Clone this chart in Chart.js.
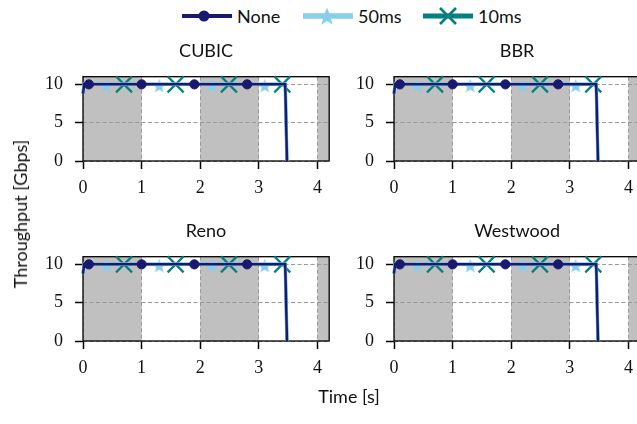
<!DOCTYPE html>
<html>
<head>
<meta charset="utf-8">
<script src="https://cdn.jsdelivr.net/npm/chart.js@4.4.1/dist/chart.umd.min.js"></script>
<style>
  html, body { margin: 0; padding: 0; background: #fff; }
  #fig { position: relative; width: 637px; height: 424px; overflow: hidden; font-family: Lato, sans-serif; color: #111; }
  #fig canvas { position: absolute; }
  .legend-item { position: absolute; top: 4px; height: 24px; display: flex; align-items: center; font-size: 18px; white-space: nowrap; }
  .legend-item svg { margin-right: 5px; }
  .axis-label { position: absolute; font-size: 18px; white-space: nowrap; transform: translate(-50%, -50%); }
  #ylabel { left: 20px; top: 214px; transform: translate(-50%, -50%) rotate(-90deg); }
  #xlabel { left: 349px; top: 396px; }
</style>
</head>
<body>
<div id="fig">
  <canvas id="p0" width="311" height="180" style="left:19px;top:30px"></canvas>
  <canvas id="p1" width="311" height="180" style="left:330px;top:30px"></canvas>
  <canvas id="p2" width="311" height="180" style="left:19px;top:210px"></canvas>
  <canvas id="p3" width="311" height="180" style="left:330px;top:210px"></canvas>

  <div class="legend-item" style="left:182px">
    <svg width="50" height="24"><line x1="0" y1="12" x2="50" y2="12" stroke="#191970" stroke-width="4"/><circle cx="22" cy="12" r="5.5" fill="#191970"/></svg>None
  </div>
  <div class="legend-item" style="left:303px">
    <svg width="50" height="24"><line x1="0" y1="12" x2="50" y2="12" stroke="#87ceeb" stroke-width="5.5"/><polygon id="legend-star" fill="#87ceeb"/></svg>50ms
  </div>
  <div class="legend-item" style="left:423px">
    <svg width="50" height="24"><line x1="0" y1="12" x2="50" y2="12" stroke="#008080" stroke-width="5"/><path d="M17 4 L33 20 M33 4 L17 20" stroke="#008080" stroke-width="2.6"/></svg>10ms
  </div>

  <div id="ylabel" class="axis-label">Throughput [Gbps]</div>
  <div id="xlabel" class="axis-label">Time [s]</div>
</div>
<script>
const panelTitles = ['CUBIC', 'BBR', 'Reno', 'Westwood'];
const xTicks = [0, 1, 2, 3, 4];
const yTicks = [0, 5, 10];
const shadeStart = [0, 2, 4];
const shadeEnd = [1, 3, 5];

// no added delay
const timeNone = [0, 0.02, 0.1, 1.0, 1.9, 2.8, 3.45, 3.48];
const gbpsNone = [8.8, 10, 10, 10, 10, 10, 10, 0];
const markNone = [0.1, 1.0, 1.9, 2.8];

// 50ms
const time50 = [0, 0.02, 0.4, 1.3, 2.2, 3.1, 3.45, 3.48];
const gbps50 = [8.8, 10, 10, 10, 10, 10, 10, 0];
const mark50 = [0.4, 1.3, 2.2, 3.1];

// 10ms
const time10 = [0, 0.02, 0.7, 1.58, 2.49, 3.4, 3.45, 3.48];
const gbps10 = [8.8, 10, 10, 10, 10, 10, 10, 0];
const mark10 = [0.7, 1.58, 2.49, 3.4];

const NAVY = '#191970';
const SKY = '#87ceeb';
const TEAL = '#008080';

function starPoints(cx, cy, R) {
  const pts = [];
  for (let i = 0; i < 10; i++) {
    const a = -Math.PI / 2 + i * Math.PI / 5;
    const r = i % 2 ? R * 0.42 : R;
    pts.push([cx + r * Math.cos(a), cy + r * Math.sin(a)]);
  }
  return pts;
}

function starImage(R, color) {
  const c = document.createElement('canvas');
  c.width = Math.ceil(R * 2) + 2;
  c.height = Math.ceil(R * 2) + 6;
  const g = c.getContext('2d');
  g.beginPath();
  starPoints(c.width / 2, c.height / 2 + 2, R).forEach(([x, y]) => g.lineTo(x, y));
  g.closePath();
  g.fillStyle = color;
  g.fill();
  return c;
}

document.getElementById('legend-star').setAttribute('points',
  starPoints(24, 13, 9.5).map((p) => p.join(',')).join(' '));

function makeDataset(label, times, values, marks, style) {
  return {
    label,
    data: times.map((t, i) => ({ x: t, y: values[i] })),
    borderColor: style.color,
    backgroundColor: style.color,
    borderWidth: style.width,
    pointStyle: style.point,
    pointRadius: (ctx) => (marks.includes(times[ctx.dataIndex]) ? style.radius : 0),
    pointHoverRadius: 0,
    pointBorderWidth: style.pointBorder,
    pointBorderColor: style.color,
    pointBackgroundColor: style.color,
    tension: 0,
    clip: false
  };
}

const shadePlugin = {
  id: 'shade',
  beforeDraw(chart) {
    const { ctx, chartArea: a, scales: { x } } = chart;
    ctx.save();
    ctx.beginPath();
    ctx.rect(a.left, a.top, a.right - a.left, a.bottom - a.top);
    ctx.clip();
    ctx.fillStyle = '#c0c0c0';
    shadeStart.forEach((s, i) => {
      const x0 = x.getPixelForValue(s);
      const x1 = x.getPixelForValue(shadeEnd[i]);
      ctx.fillRect(x0, a.top, x1 - x0, a.bottom - a.top);
    });
    ctx.restore();
  }
};

const framePlugin = {
  id: 'frame',
  beforeDatasetsDraw(chart) {
    const { ctx, chartArea: a } = chart;
    ctx.save();
    ctx.strokeStyle = '#000';
    ctx.lineWidth = 1.3;
    ctx.strokeRect(a.left, a.top, a.right - a.left, a.bottom - a.top);
    ctx.restore();
  }
};

const tickFont = { family: '"Liberation Serif", "Times New Roman", serif', size: 18 };

function renderPanel(id, title) {
  const star = starImage(7.5, SKY);
  new Chart(document.getElementById(id), {
    type: 'line',
    data: {
      datasets: [
        makeDataset('None', timeNone, gbpsNone, markNone, { color: NAVY, width: 2.5, point: 'circle', radius: 4.6, pointBorder: 1 }),
        makeDataset('50ms', time50, gbps50, mark50, { color: SKY, width: 3.5, point: star, radius: 5, pointBorder: 0 }),
        makeDataset('10ms', time10, gbps10, mark10, { color: TEAL, width: 3, point: 'crossRot', radius: 11.3, pointBorder: 2.2 })
      ]
    },
    options: {
      responsive: false,
      devicePixelRatio: 1,
      animation: false,
      events: [],
      layout: { padding: 0 },
      scales: {
        x: {
          type: 'linear',
          min: 0,
          max: 4.2,
          afterBuildTicks: (axis) => { axis.ticks = xTicks.map((v) => ({ value: v })); },
          afterFit: (axis) => { axis.height = 49; },
          grid: { color: '#999999', lineWidth: 1, tickColor: '#000', tickWidth: 1.5, tickLength: 8 },
          border: { display: false, dash: [4, 2.5] },
          ticks: { color: '#111', font: tickFont, padding: 8, maxRotation: 0 }
        },
        y: {
          min: 0,
          max: 11,
          afterBuildTicks: (axis) => { axis.ticks = yTicks.map((v) => ({ value: v })); },
          afterFit: (axis) => { axis.width = 64; },
          grid: { color: '#999999', lineWidth: 1, tickColor: '#000', tickWidth: 1.5, tickLength: 8 },
          border: { display: false, dash: [4, 2.5] },
          ticks: { color: '#111', font: tickFont, padding: 12 }
        }
      },
      plugins: {
        legend: { display: false },
        tooltip: { enabled: false },
        title: {
          display: true,
          text: title,
          fullSize: false,
          color: '#111',
          font: { family: 'Lato, sans-serif', size: 18, weight: 'normal', lineHeight: 1.2 },
          padding: { top: 10, bottom: 15.1 }
        }
      }
    },
    plugins: [shadePlugin, framePlugin]
  });
}

panelTitles.forEach((t, i) => renderPanel('p' + i, t));
</script>
</body>
</html>
